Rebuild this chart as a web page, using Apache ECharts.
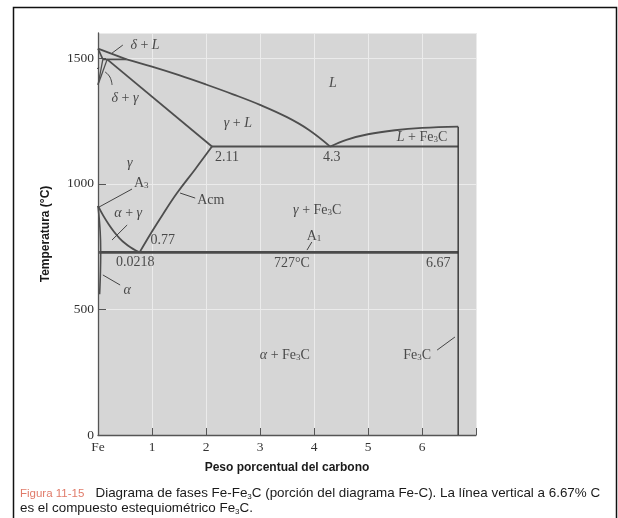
<!DOCTYPE html>
<html><head><meta charset="utf-8">
<script src="https://cdn.jsdelivr.net/npm/echarts@6/dist/echarts.min.js"></script>
<style>html,body{margin:0;padding:0;background:#fff}#c{width:618px;height:518px}</style>
</head><body><div id="c"></div>
<script>
// ---- data (wt% C, °C) ----
const xTicks = ['Fe','1','2','3','4','5','6',''];
const yTicks = [0, 500, 1000, 1500];
const liquidusLeft = [[0.53,1495],[1,1466],[1.5,1432],[2,1395],[2.5,1356],[3,1314],[3.5,1265],[3.9,1215],[4.3,1148]];
const liquidusTop = [[0,1538],[0.53,1495]];
const liquidusRight = [[4.3,1148],[4.6,1175],[5,1197],[5.5,1213],[6,1222],[6.67,1227]];
const deltaSolidus = [[0,1538],[0.09,1495]];
const peritectic = [[0.09,1495],[0.53,1495]];
const deltaGammaA = [[0.09,1495],[0,1394]];
const deltaGammaB = [[0.17,1495],[0,1394]];
const solidus = [[0.17,1495],[2.11,1148]];
const eutectic = [[2.11,1148],[6.67,1148]];
const a3Line = [[0,912],[0.1,872],[0.2,838],[0.3,808],[0.4,783],[0.5,763],[0.6,747],[0.7,734],[0.77,727]];
const acmLine = [[0.77,727],[1.0,810],[1.2,878],[1.46,962],[1.8,1058],[2.11,1148]];
const alphaSolvus = [[0,912],[0.04,810],[0.05,727],[0.045,650],[0.03,560]];
const eutectoid = [[0.0218,727],[6.67,727]];
const cementite = [[6.67,0],[6.67,1227]];
const leaders = [
  [[0.46,1552],[0.26,1520]],
  [[-0.185,1441],[0.02,1462]],
  [[0.13,1445],[0.22,1425],[0.26,1393]],
  [[0,905],[0.63,979]],
  [[0.26,776],[0.54,836]],
  [[1.52,963],[1.8,943]],
  [[0.09,637],[0.41,597]],
  [[3.87,736],[3.96,768]],
  [[6.28,338],[6.61,390]]
];
const labels = [
  [0.87,1552,'{i|δ} + {i|L}'],
  [-0.30,1421,'{i|δ}'],
  [0.50,1341,'{i|δ} + {i|γ}'],
  [4.35,1401,'{i|L}'],
  [2.59,1242,'{i|γ} + {i|L}'],
  [6.00,1186,'{i|L} + Fe{s|3}C'],
  [2.39,1106,'2.11'],
  [4.33,1106,'4.3'],
  [0.59,1083,'{i|γ}'],
  [0.80,1003,'A{s|3}'],
  [0.56,884,'{i|α} + {i|γ}'],
  [2.09,935,'Acm'],
  [1.20,776,'0.77'],
  [0.69,689,'0.0218'],
  [0.54,577,'{i|α}'],
  [3.59,685,'727°C'],
  [4.00,792,'A{s|1}'],
  [4.06,896,'{i|γ} + Fe{s|3}C'],
  [6.30,685,'6.67'],
  [3.46,318,'{i|α} + Fe{s|3}C'],
  [5.91,318,'Fe{s|3}C']
];

const LC = '#4e4e4e';
function line(d, w, c, sm){ return {type:'line', data:d, showSymbol:false, symbol:'none', smooth:sm||false,
  lineStyle:{color:c||LC, width:w||1.6}, silent:true, z:3}; }
const series = [
  line(liquidusTop,1.8), line(liquidusLeft,1.8,null,0.4), line(liquidusRight,1.8,null,0.4),
  line(deltaSolidus), line(peritectic),
  line(deltaGammaA,1.3), line(deltaGammaB,1.3), line(solidus,1.8), line(eutectic,2),
  line(a3Line,1.8,null,0.4), line(acmLine,1.8,null,0.4), line(alphaSolvus,1.6,null,0.4), line(eutectoid,2.6,'#4a4a4a'),
  line(cementite,1.4,'#333')
];
leaders.forEach(d => series.push(line(d,1,'#444',d.length>2?0.5:false)));
series.push({type:'scatter', data:labels, symbolSize:0, silent:true, z:5,
  label:{show:true, position:'inside', formatter:p=>p.data[2], color:'#262626',
    fontFamily:'Liberation Serif', fontSize:14,
    rich:{ i:{fontStyle:'italic', fontFamily:'Liberation Serif', fontSize:14, color:'#262626'},
           s:{fontSize:9, fontFamily:'Liberation Serif', color:'#262626', verticalAlign:'bottom', padding:[6,0,0,0]} } }});

const chart = echarts.init(document.getElementById('c'), null, {renderer:'canvas'});
chart.setOption({
  animation:false,
  backgroundColor:'#fff',
  grid:{left:98, top:33, width:378, height:402, show:true, backgroundColor:'#d6d6d6', borderWidth:0},
  xAxis:{type:'value', min:0, max:7, interval:1,
    name:'Peso porcentual del carbono', nameLocation:'middle', nameGap:27,
    nameTextStyle:{fontFamily:'Liberation Sans', fontWeight:'bold', fontSize:12, color:'#1a1a1a'},
    axisLine:{show:true, lineStyle:{color:'#555', width:1.3}},
    axisTick:{inside:true, length:7, lineStyle:{color:'#555'}},
    axisLabel:{formatter:(v)=>xTicks[Math.round(v)], fontFamily:'Liberation Serif', fontSize:13.5, color:'#333', margin:5},
    splitLine:{show:true, lineStyle:{color:'#ebebeb', width:1}}},
  yAxis:{type:'value', min:0, max:1600, interval:500,
    name:'Temperatura (°C)', nameLocation:'middle', nameGap:46, nameRotate:90,
    nameTextStyle:{fontFamily:'Liberation Sans', fontWeight:'bold', fontSize:12, color:'#1a1a1a'},
    axisLine:{show:true, lineStyle:{color:'#555', width:1.3}},
    axisTick:{inside:true, length:8, lineStyle:{color:'#555'}},
    axisLabel:{formatter:(v)=> yTicks.includes(v) ? String(v) : '', fontFamily:'Liberation Serif', fontSize:13.5, color:'#333', margin:4, showMaxLabel:false},
    splitLine:{show:true, lineStyle:{color:'#ebebeb', width:1}}},
  series: series,
  graphic:[
    {type:'rect', shape:{x:13.5, y:7.5, width:603, height:512}, style:{fill:'none', stroke:'#111', lineWidth:1.5}, silent:true},
    {type:'text', left:20, top:486, style:{
      text:'{r|Figura 11-15}   Diagrama de fases Fe-Fe{s|3}C (porción del diagrama Fe-C). La línea vertical a 6.67% C\nes el compuesto estequiométrico Fe{s|3}C.',
      fontFamily:'Liberation Sans', fontSize:13.4, fill:'#1a1a1a', lineHeight:15,
      rich:{ r:{fill:'#e07b6a', fontFamily:'Liberation Sans', fontSize:11.5},
             s:{fontSize:8, fontFamily:'Liberation Sans', fill:'#1a1a1a', verticalAlign:'bottom', padding:[5,0,0,0]} } } }
  ]
});
</script></body></html>
